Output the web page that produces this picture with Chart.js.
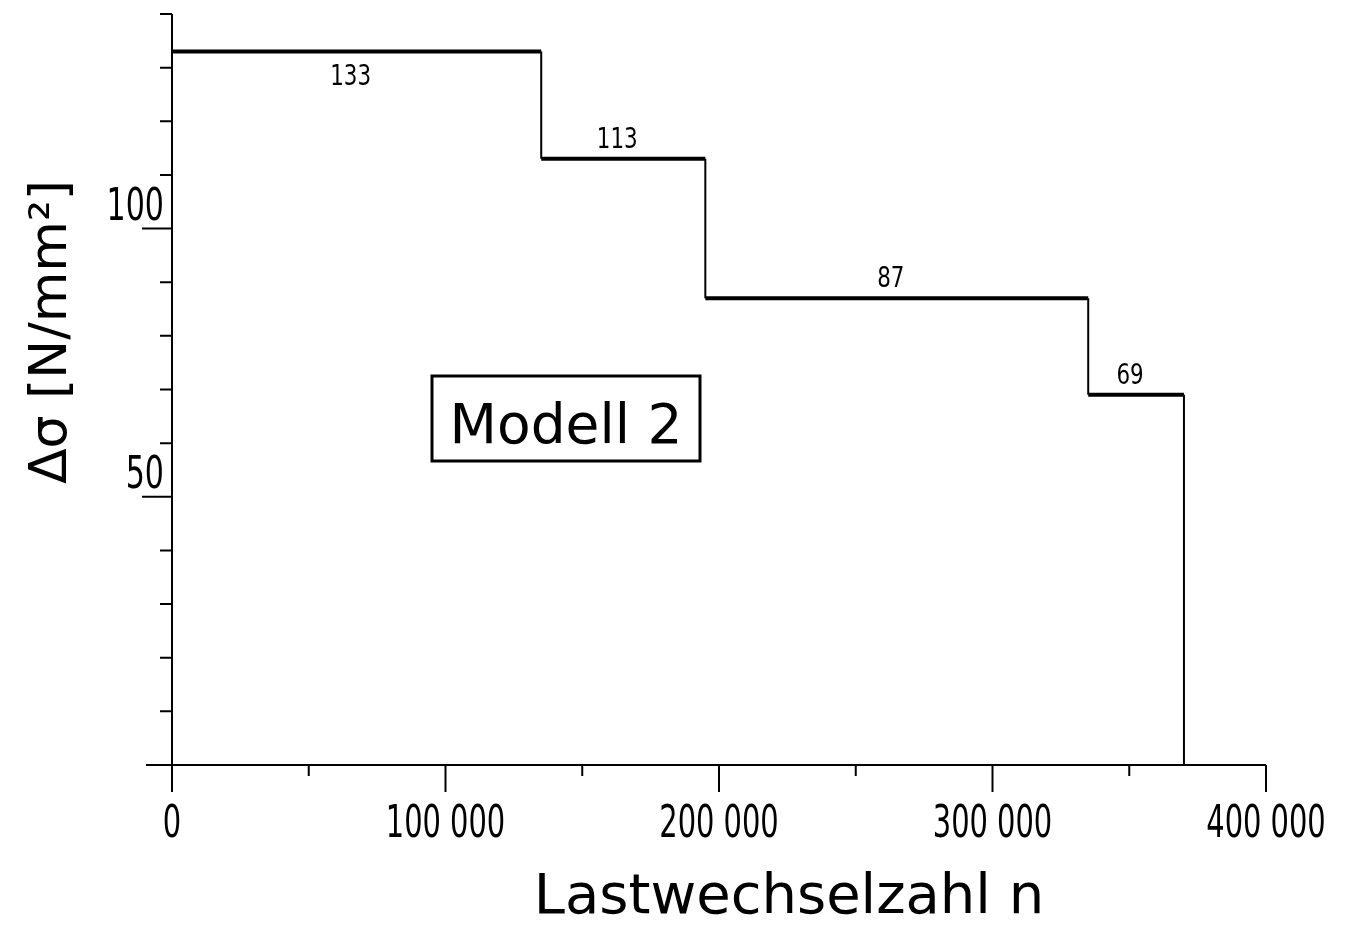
<!DOCTYPE html>
<html>
<head>
<meta charset="utf-8">
<script src="https://cdn.jsdelivr.net/npm/chart.js@4.4.0/dist/chart.umd.min.js"></script>
<style>
  body { margin: 0; background: #fff; }
  canvas { display: block; }
</style>
</head>
<body>
<canvas id="stepChart" width="1357" height="925"></canvas>
<script>
// Lastwechsel-Grenzen und Spannungsstufen (Modell 2)
const breakpoints = [0, 135000, 195000, 335000, 370000];
const levels = [133, 113, 87, 69];
const levelLabels = ['133', '113', '87', '69'];

const xTicks = [0, 100000, 200000, 300000, 400000];
const xTickLabels = ['0', '100 000', '200 000', '300 000', '400 000'];
const xMinorTicks = [50000, 150000, 250000, 350000];
const yTicks = [10, 20, 30, 40, 50, 60, 70, 80, 90, 100, 110, 120, 130, 140];
const yLabelTicks = [50, 100];

const xTitle = 'Lastwechselzahl n';
const yTitle = 'Δσ [N/mm²]';
const boxText = 'Modell 2';

// Treppenlinie: Punkte aus Grenzen und Stufen
const points = [];
levels.forEach((lv, i) => {
    points.push({ x: breakpoints[i], y: lv });
    points.push({ x: breakpoints[i + 1], y: lv });
});
points.push({ x: breakpoints[breakpoints.length - 1], y: 0 });

const narrowFont = '"DejaVu Sans Condensed", "DejaVu Sans", sans-serif';
const wordFont = '"DejaVu Sans", sans-serif';

// schmale Ziffern: Text horizontal gestaucht zeichnen
function narrowText(ctx, text, px, py, squeeze) {
    ctx.save();
    ctx.translate(px, py);
    ctx.scale(squeeze, 1);
    ctx.fillText(text, 0, 0);
    ctx.restore();
}

const axesPlugin = {
    id: 'axesPlugin',
    afterDraw(chart) {
        const ctx = chart.ctx;
        const x = chart.scales.x;
        const y = chart.scales.y;
        const x0 = x.getPixelForValue(0);
        const y0 = y.getPixelForValue(0);
        ctx.save();
        ctx.strokeStyle = '#000';
        ctx.fillStyle = '#000';
        ctx.lineWidth = 2;

        // Achsen
        ctx.beginPath();
        ctx.moveTo(x0 - 26, y0);
        ctx.lineTo(x.getPixelForValue(400000), y0);
        ctx.moveTo(x0, y.getPixelForValue(140));
        ctx.lineTo(x0, y0 + 27);
        ctx.stroke();

        // x-Ticks
        ctx.beginPath();
        xTicks.forEach(v => {
            const px = x.getPixelForValue(v);
            ctx.moveTo(px, y0);
            ctx.lineTo(px, y0 + 27);
        });
        xMinorTicks.forEach(v => {
            const px = x.getPixelForValue(v);
            ctx.moveTo(px, y0);
            ctx.lineTo(px, y0 + 11);
        });
        // y-Ticks
        yTicks.forEach(v => {
            const py = y.getPixelForValue(v);
            const len = yLabelTicks.includes(v) ? 30 : 12;
            ctx.moveTo(x0 - len, py);
            ctx.lineTo(x0, py);
        });
        ctx.stroke();

        // Tick-Beschriftungen
        ctx.font = '44px ' + narrowFont;
        ctx.textAlign = 'center';
        ctx.textBaseline = 'alphabetic';
        xTicks.forEach((v, i) => {
            narrowText(ctx, xTickLabels[i], x.getPixelForValue(v), y0 + 72, 0.73);
        });
        ctx.textAlign = 'right';
        yLabelTicks.forEach(v => {
            narrowText(ctx, String(v), x0 - 8, y.getPixelForValue(v) - 9, 0.76);
        });

        // Stufenwerte
        ctx.font = '28px ' + narrowFont;
        ctx.textAlign = 'center';
        levels.forEach((lv, i) => {
            const mid = x.getPixelForValue((breakpoints[i] + breakpoints[i + 1]) / 2) - 6;
            const py = y.getPixelForValue(lv);
            const ty = i === 0 ? py + 33 : py - 11;
            narrowText(ctx, levelLabels[i], mid, ty, 0.85);
        });

        // Achsentitel
        ctx.font = '56px ' + wordFont;
        ctx.fillText(xTitle, 789, 913);
        ctx.save();
        ctx.translate(66, 332);
        ctx.rotate(-Math.PI / 2);
        ctx.font = '52px ' + wordFont;
        ctx.fillText(yTitle, 0, 0);
        ctx.restore();

        // Kasten "Modell 2"
        ctx.lineWidth = 3;
        ctx.strokeRect(432, 376, 268, 85);
        ctx.font = '55px ' + wordFont;
        ctx.fillText(boxText, 566, 443);
        ctx.restore();
    }
};

new Chart(document.getElementById('stepChart').getContext('2d'), {
    type: 'line',
    data: {
        datasets: [{
            data: points,
            borderColor: '#000',
            borderWidth: 4,
            pointRadius: 0,
            fill: false,
            tension: 0,
            segment: {
                borderWidth: c => c.p0.parsed.y === c.p1.parsed.y ? 4 : 2
            }
        }]
    },
    options: {
        responsive: false,
        animation: false,
        layout: { padding: { left: 172, right: 91, top: 14, bottom: 160 } },
        plugins: {
            legend: { display: false },
            tooltip: { enabled: false }
        },
        scales: {
            x: { type: 'linear', min: 0, max: 400000, display: false },
            y: { type: 'linear', min: 0, max: 140, display: false }
        }
    },
    plugins: [axesPlugin]
});
</script>
</body>
</html>
